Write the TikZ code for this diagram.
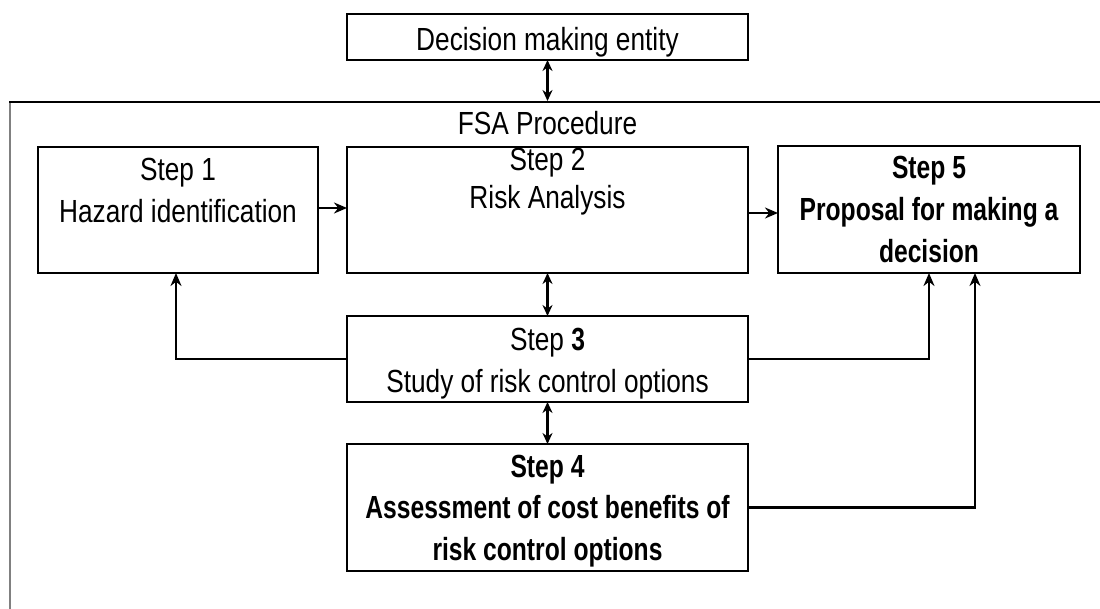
\documentclass[tikz,border=0pt]{standalone}
\usepackage{fontspec}
\setmainfont[FakeStretch=0.82, BoldFeatures={FakeStretch=0.77}]{Liberation Sans}
\usetikzlibrary{arrows.meta}

\begin{document}
\begin{tikzpicture}[x=1pt, y=-1pt,
  box/.style={draw=black, line width=2.4pt, inner sep=0pt, outer sep=0pt, fill=white},
  txt/.style={anchor=base, inner sep=0pt, font=\fontsize{32}{40}\selectfont},
  btxt/.style={txt, font=\fontsize{32}{40}\selectfont\bfseries},
  conn/.style={line width=2.6pt, -{Stealth[length=13pt,width=11pt]}},
  dbl/.style={line width=2.6pt, {Stealth[length=11pt,width=10pt]}-{Stealth[length=11pt,width=10pt]}},
  frameline/.style={line width=2.6pt, line cap=rect}]

% canvas
\fill[white] (0,0) rectangle (1100,608);
\useasboundingbox (0,0) rectangle (1100,608);

% decision making entity
\node[box, minimum width=401pt, minimum height=46pt] (dme) at (547.5,37) {};
\node[txt] (dmet) at (547.5,50) {Decision making entity};

% open frame of the procedure
\coordinate (ftl) at (10,102);
\coordinate (ftr) at (1100,102);
\coordinate (fbl) at (10,608);
\coordinate (fin) at (547.5,101);
\draw[frameline, draw=black!50] (fbl) -- (ftl);
\draw[frameline] (ftl) -- (ftr);
\node[txt] (fsa) at (547.5,134) {FSA Procedure};
\draw[dbl] (dme.south) -- (fin);

% step 1
\node[box, minimum width=280pt, minimum height=126pt] (s1) at (178,210) {};
\node[txt] (s1a) at (178,180) {Step 1};
\node[txt] (s1b) at (178,222) {Hazard identification};

% step 2
\node[box, minimum width=401pt, minimum height=126pt] (s2) at (547.5,210) {};
\node[txt] (s2a) at (547.5,170) {Step 2};
\node[txt] (s2b) at (547.5,208) {Risk Analysis};

% step 5
\node[box, minimum width=302pt, minimum height=127pt] (s5) at (929,209.5) {};
\node[btxt] (s5a) at (929,178) {Step 5};
\node[btxt] (s5b) at (929,220) {Proposal for making a};
\node[btxt] (s5c) at (929,262) {decision};

% step 3
\node[box, minimum width=401pt, minimum height=86pt] (s3) at (547.5,359) {};
\node[txt] (s3a) at (547.5,350) {Step \textbf{3}};
\node[txt] (s3b) at (547.5,392) {Study of risk control options};

% step 4
\node[box, minimum width=401pt, minimum height=127pt] (s4) at (547.5,507.5) {};
\node[btxt] (s4a) at (547.5,477) {Step 4};
\node[btxt] (s4b) at (547.5,518) {Assessment of cost benefits of};
\node[btxt] (s4c) at (547.5,560) {risk control options};

% connectors
\draw[conn] ([yshift=2pt]s1.east) -- ([yshift=2pt]s2.west);
\draw[conn] ([yshift=-3pt]s2.east) -- ([yshift=-3.5pt]s5.west);
\draw[dbl] (s2.south) -- (s3.north);
\draw[dbl] (s3.south) -- (s4.north);
\draw[conn] (s3.west) -| ([xshift=-2pt]s1.south);
\draw[conn] (s3.east) -| (s5.south);
\draw[conn] (s4.east) -| ([xshift=46pt]s5.south);
\end{tikzpicture}
\end{document}
